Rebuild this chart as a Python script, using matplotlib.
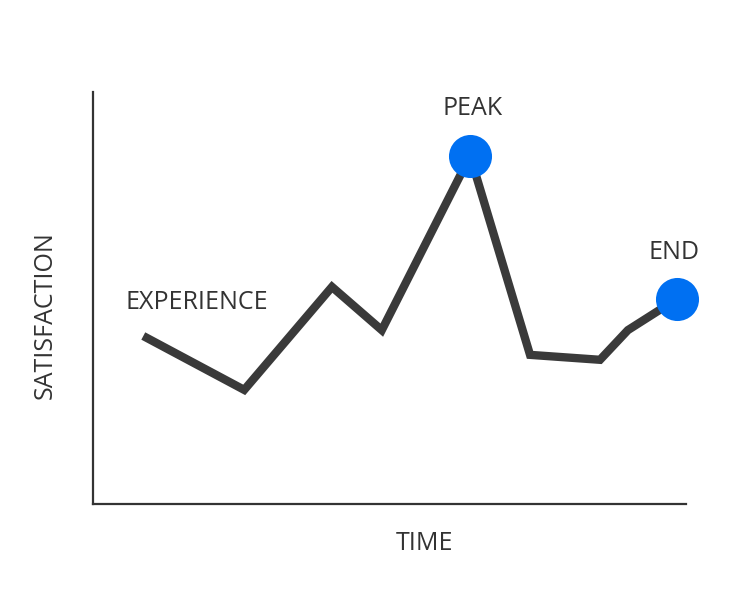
import matplotlib.pyplot as plt

# curva peak-end: tempo x satisfacao (escala 0-10)
tempo = [0.91, 2.55, 4.03, 4.87, 6.36, 7.37, 8.55, 9.02, 9.85]
satisfacao = [4.03, 2.77, 5.27, 4.22, 8.45, 3.62, 3.50, 4.22, 4.98]
destaques = [4, 8]  # indices do pico e do fim
rotulos = {"PEAK": (6.4, 9.6), "END": (9.8, 6.1), "EXPERIENCE": (1.75, 4.9)}

cinza = "#3a3a3a"
azul = "#0070f2"
plt.rcParams['font.family'] = ['Open Sans', 'DejaVu Sans']

fig = plt.figure(figsize=(7.56, 6), dpi=100)
ax = fig.add_axes([93/756, 1 - 504/600, 593/756, 412/600])
ax.set_xlim(0, 10)
ax.set_ylim(0, 10)

ax.plot(tempo, satisfacao, color=cinza, lw=6, solid_joinstyle='miter', zorder=2)
ax.plot([tempo[i] for i in destaques], [satisfacao[i] for i in destaques],
        'o', color=azul, ms=31, mew=0, zorder=3, clip_on=False)

for txt, (x, y) in rotulos.items():
    ax.text(x, y, txt, ha='center', va='center', fontsize=18, color='#333333')

for s in ['top', 'right']:
    ax.spines[s].set_visible(False)
for s in ['left', 'bottom']:
    ax.spines[s].set_color('#333333')
    ax.spines[s].set_linewidth(1.6)
ax.set_xticks([])
ax.set_yticks([])

ax.set_xlabel("TIME", fontsize=18, color='#333333', va='center')
ax.xaxis.set_label_coords((425 - 93) / 593, -(543 - 504) / 412)
ax.set_ylabel("SATISFACTION", fontsize=18, color='#333333', va='center')
ax.yaxis.set_label_coords((45 - 93) / 593, (504 - 315) / 412)

fig.savefig("out.png", dpi=100)
